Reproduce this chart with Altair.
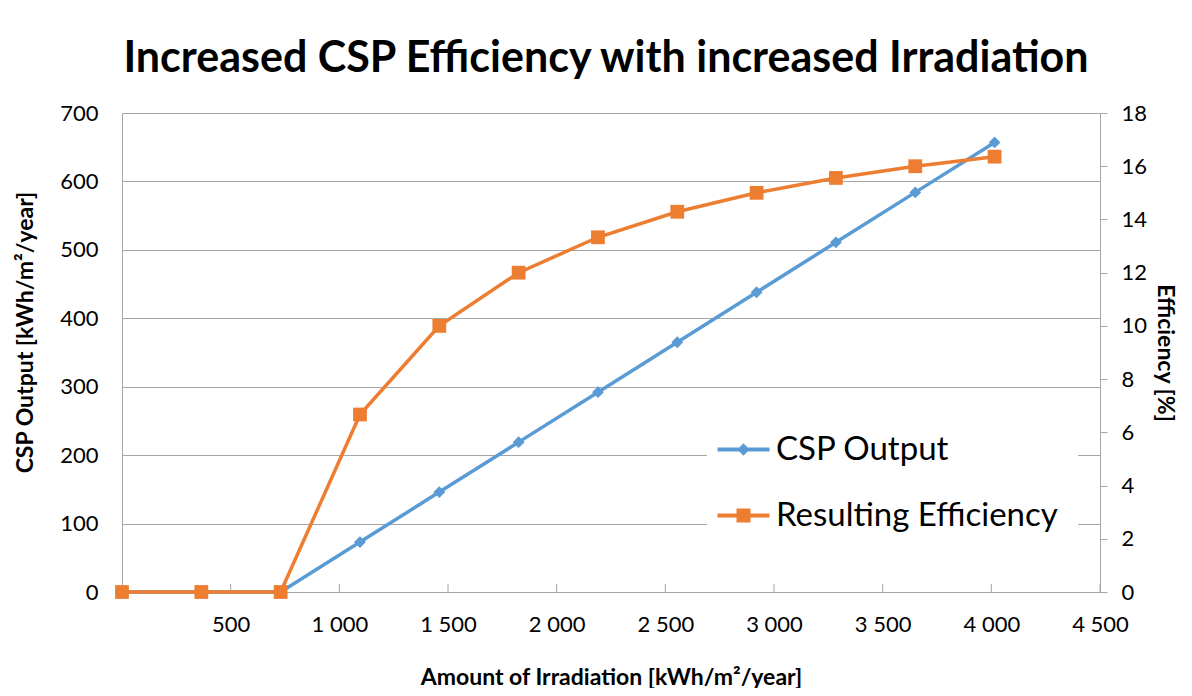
import altair as alt
import pandas as pd

# ---- data ----
irradiation = [0, 365, 730, 1095, 1460, 1825, 2190, 2555, 2920, 3285, 3650, 4015]
csp_output = [0, 0, 0, 73, 146, 219, 292, 365, 438, 511, 584, 657]
efficiency = [0, 0, 0, 6.67, 10.0, 12.0, 13.33, 14.29, 15.0, 15.56, 16.0, 16.36]

series_names = ["CSP Output", "Resulting Efficiency"]
series_colors = ["#5B9BD5", "#ED7D31"]

x_ticks = [500, 1000, 1500, 2000, 2500, 3000, 3500, 4000, 4500]
left_ticks = [0, 100, 200, 300, 400, 500, 600, 700]
right_ticks = [0, 2, 4, 6, 8, 10, 12, 14, 16, 18]

title_text = "Increased CSP Efficiency with increased Irradiation"
x_title = "Amount of Irradiation [kWh/m²/year]"
left_title = "CSP Output  [kWh/m²/year]"
right_title = "Efficiency [%]"

FONT = "Lato"
GRID = "#a6a6a6"
W, H = 978, 479

df = pd.DataFrame({"irr": irradiation, "csp": csp_output, "eff": efficiency})
ticks_df = pd.DataFrame({"tick": x_ticks})

# legend symbols: line segment with marker (custom SVG paths)
diamond_line = "M-2.6,-0.2H2.6V0.2H-2.6Z M0,-0.62L0.62,0L0,0.62L-0.62,0Z"
square_line = "M-2.6,-0.2H2.6V0.2H-2.6Z M-0.7,-0.7H0.7V0.7H-0.7Z"

x_enc = alt.X(
    "irr:Q",
    scale=alt.Scale(domain=[0, 4500], nice=False, zero=True),
    axis=alt.Axis(
        values=x_ticks,
        title=x_title,
        grid=False,
        ticks=False,
        domainColor=GRID,
        labelFlush=False,
        labelOverlap=False,
        labelExpr="replace(format(datum.value, ','), ',', ' ')",
        labelPadding=22,
        titlePadding=31,
    ),
)

leg = alt.Legend(
    title=None,
    orient="none",
    legendX=585,
    legendY=300,
    fillColor="white",
    padding=20,
    symbolSize=400,
    symbolOpacity=1,
    symbolStrokeWidth=0,
    labelFontSize=33,
    labelFont=FONT,
    labelColor="black",
    labelOffset=16,
    labelLimit=500,
    rowPadding=32,
)

csp_line = alt.Chart(df).mark_line(color=series_colors[0], strokeWidth=3.5).encode(
    x=x_enc,
    y=alt.Y(
        "csp:Q",
        scale=alt.Scale(domain=[0, 700], nice=False),
        axis=alt.Axis(
            values=left_ticks,
            title=left_title,
            grid=True,
            gridColor=GRID,
            ticks=False,
            domainColor=GRID,
            labelPadding=24,
            titlePadding=22,
            titleY=219,
        ),
    ),
)
csp_pts = alt.Chart(df).mark_point(
    shape="diamond", filled=True, opacity=1, color=series_colors[0], size=140
).encode(x="irr:Q", y="csp:Q")

legend_layer = (
    alt.Chart(df)
    .transform_fold(["csp", "eff"], as_=["key", "v"])
    .transform_calculate(
        series="datum.key == 'csp' ? 'CSP Output' : 'Resulting Efficiency'"
    )
    .mark_point(filled=True, opacity=0)
    .encode(
        x="irr:Q",
        y="csp:Q",
        color=alt.Color(
            "series:N",
            scale=alt.Scale(domain=series_names, range=series_colors),
            legend=leg,
        ),
        shape=alt.Shape(
            "series:N",
            scale=alt.Scale(domain=series_names, range=[diamond_line, square_line]),
            legend=leg,
        ),
    )
)

eff_line = alt.Chart(df).mark_line(color=series_colors[1], strokeWidth=3.5).encode(
    x="irr:Q",
    y=alt.Y(
        "eff:Q",
        scale=alt.Scale(domain=[0, 18], nice=False),
        axis=alt.Axis(
            orient="right",
            values=right_ticks,
            title=right_title,
            grid=False,
            ticks=True,
            tickSize=7,
            tickColor=GRID,
            domainColor=GRID,
            labelPadding=14,
            titlePadding=6,
        ),
    ),
)
eff_pts = alt.Chart(df).mark_point(
    shape="square", filled=True, opacity=1, color=series_colors[1], size=190
).encode(x="irr:Q", y="eff:Q")

x_tick_marks = alt.Chart(ticks_df).mark_rule(color=GRID, strokeWidth=1).encode(
    x="tick:Q", y=alt.value(H - 8), y2=alt.value(H)
)

left = alt.layer(csp_line, csp_pts, legend_layer)
right = alt.layer(eff_line, eff_pts)

chart = (
    alt.layer(x_tick_marks, left, right)
    .resolve_scale(y="independent")
    .properties(
        width=W,
        height=H,
        padding={"left": 114, "top": 105, "right": 84, "bottom": 96},
        autosize=alt.AutoSizeParams(type="none"),
        title=alt.TitleParams(
            title_text,
            font=FONT,
            fontSize=43,
            fontWeight="bold",
            color="black",
            anchor="middle",
            offset=21,
            dx=-5,
        ),
    )
    .configure_view(strokeWidth=0)
    .configure_axis(
        labelFont=FONT,
        labelFontSize=22,
        labelColor="black",
        titleFont=FONT,
        titleFontSize=23,
        titleFontWeight="bold",
        titleColor="black",
        domainWidth=1,
    )
)

chart.save("out.html", embed_options={"renderer": "svg", "actions": False})
